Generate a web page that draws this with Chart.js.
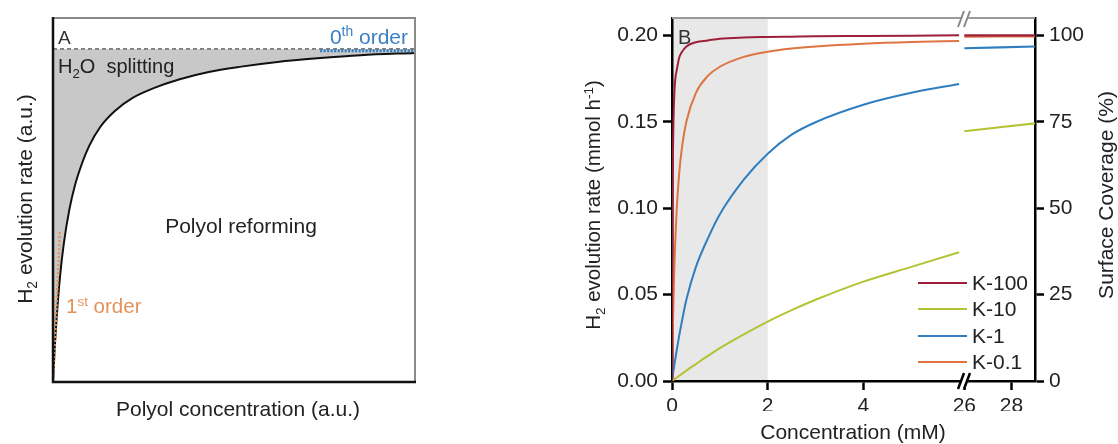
<!DOCTYPE html>
<html><head><meta charset="utf-8">
<script src="https://cdn.jsdelivr.net/npm/chart.js@4.4.1/dist/chart.umd.min.js"></script>
<style>
html,body{margin:0;padding:0;background:#fff;width:1118px;height:444px;overflow:hidden}
#ca{position:absolute;left:0;top:0}
#cb{position:absolute;left:560px;top:0}
</style></head><body>
<canvas id="ca" width="440" height="444" style="width:440px;height:444px"></canvas>
<canvas id="cb" width="558" height="444" style="width:558px;height:444px"></canvas>
<script>
// ---------- Panel A data ----------
const polyolConc = [0, 0.005, 0.01, 0.02, 0.03, 0.045, 0.06, 0.08, 0.1, 0.13, 0.17, 0.22, 0.28, 0.35, 0.43, 0.52, 0.62, 0.73, 0.85, 1.0];
const polyolRate = [0, 0.106, 0.192, 0.323, 0.417, 0.517, 0.588, 0.656, 0.709, 0.765, 0.813, 0.853, 0.883, 0.909, 0.931, 0.947, 0.961, 0.972, 0.9815, 0.988];
const firstOrderX = [0, 0.019];
const firstOrderY = [0, 0.45];
const zeroOrderX = [0.738, 1.0];
const zeroOrderY = [0.995, 0.995];
const plateauX = [0, 1];
const plateauY = [1, 1];

// ---------- Panel B data ----------
const seriesNames = ['K-100', 'K-10', 'K-1', 'K-0.1'];
const concLeft = [0, 0.005, 0.01, 0.02, 0.03, 0.05, 0.07, 0.1, 0.15, 0.2, 0.3, 0.5, 0.75, 1, 1.5, 2, 2.5, 3, 4, 5, 6];
const k100Left = [0, 0.067, 0.1, 0.133, 0.15, 0.167, 0.175, 0.18, 0.187, 0.19, 0.1935, 0.196, 0.197, 0.198, 0.1987, 0.199, 0.1992, 0.1994, 0.1996, 0.1998, 0.2];
const k10Left  = [0, 0.0001, 0.0002, 0.0004, 0.0006, 0.001, 0.0014, 0.002, 0.003, 0.004, 0.006, 0.0098, 0.0145, 0.019, 0.027, 0.0344, 0.041, 0.047, 0.0575, 0.066, 0.0745];
const k1Left   = [0, 0.001, 0.002, 0.0039, 0.0058, 0.0094, 0.013, 0.018, 0.0262, 0.0335, 0.047, 0.066, 0.0825, 0.0965, 0.1165, 0.1315, 0.1425, 0.1497, 0.1598, 0.1667, 0.1718];
const k01Left  = [0, 0.0095, 0.018, 0.0333, 0.046, 0.0667, 0.082, 0.1, 0.12, 0.1333, 0.15, 0.1667, 0.1765, 0.1818, 0.1875, 0.1905, 0.1923, 0.1935, 0.1951, 0.1961, 0.1967];
const concRight = [26, 27.5, 29];
const k100Right = [0.2, 0.2, 0.2];
const k10Right  = [0.1445, 0.1468, 0.149];
const k1Right   = [0.1925, 0.193, 0.1935];
const k01Right  = [0.1992, 0.1993, 0.1994];
const xTicksLeft = [0, 2, 4];
const xTicksRight = [26, 28];
const rateTicks = [0, 0.05, 0.1, 0.15, 0.2];
const coverageTicks = [0, 25, 50, 75, 100];
const shadeRange = [0, 2];

const FONT = "'Liberation Sans', Arial, Helvetica, sans-serif";
const TXT = '#222';
const colors = ['#9e1f3a', '#b3c334', '#2f7ec0', '#de7442'];
Chart.defaults.font.family = FONT;

function pts(xs, ys) { return xs.map((x, i) => ({x: x, y: ys[i]})); }

function drawRich(ctx, parts, x, y, size, color, align) {
  const fs = p => (p[1] ? size * 0.66 : size);
  let w = 0;
  parts.forEach(p => { ctx.font = fs(p) + 'px ' + FONT; w += ctx.measureText(p[0]).width; });
  let cx = align === 'center' ? x - w / 2 : (align === 'right' ? x - w : x);
  ctx.fillStyle = color; ctx.textBaseline = 'alphabetic'; ctx.textAlign = 'left';
  parts.forEach(p => {
    ctx.font = fs(p) + 'px ' + FONT;
    const dy = p[1] === 1 ? size * 0.24 : (p[1] === 2 ? -size * 0.36 : 0);
    ctx.fillText(p[0], cx, y + dy);
    cx += ctx.measureText(p[0]).width;
  });
}
function drawRotated(ctx, parts, x, y, size, color) {
  ctx.save(); ctx.translate(x, y); ctx.rotate(-Math.PI / 2);
  drawRich(ctx, parts, 0, 0, size, color, 'center');
  ctx.restore();
}

// ---------- Panel A chart ----------
const aPlugin = {
  id: 'adeco',
  afterDraw(chart) {
    const {ctx, chartArea: a} = chart;
    ctx.save();
    ctx.strokeStyle = '#8a8a8a'; ctx.lineWidth = 2;
    ctx.beginPath(); ctx.moveTo(a.left, a.top); ctx.lineTo(a.right, a.top); ctx.lineTo(a.right, a.bottom); ctx.stroke();
    ctx.strokeStyle = '#111'; ctx.lineWidth = 2.5;
    ctx.beginPath(); ctx.moveTo(a.left, a.top - 1); ctx.lineTo(a.left, a.bottom); ctx.lineTo(a.right + 1, a.bottom); ctx.stroke();
    drawRich(ctx, [['A']], 58, 44, 19, '#333', 'left');
    drawRich(ctx, [['H'], ['2', 1], ['O  splitting']], 58, 73, 20, TXT, 'left');
    drawRich(ctx, [['0'], ['th', 2], [' order']], 408, 44, 21, '#3a80c2', 'right');
    drawRich(ctx, [['1'], ['st', 2], [' order']], 66, 313, 20.5, '#e3925c', 'left');
    drawRich(ctx, [['Polyol reforming']], 241, 233, 21, TXT, 'center');
    drawRich(ctx, [['Polyol concentration (a.u.)']], 238, 416, 21, TXT, 'center');
    drawRotated(ctx, [['H'], ['2', 1], [' evolution rate (a.u.)']], 32, 199, 21, TXT);
    ctx.restore();
  }
};

new Chart(document.getElementById('ca'), {
  type: 'line',
  data: {
    datasets: [
      {data: pts(zeroOrderX, zeroOrderY), borderColor: '#2f7ec0', borderWidth: 3, borderDash: [2, 1.5], pointRadius: 0, fill: false},
      {data: pts(firstOrderX, firstOrderY), borderColor: '#e3925c', borderWidth: 2.5, borderDash: [2, 2], pointRadius: 0, fill: false},
      {data: pts(plateauX, plateauY), borderColor: '#555', borderWidth: 1.2, borderDash: [4, 3], pointRadius: 0, fill: false},
      {data: pts(polyolConc, polyolRate), borderColor: '#111', borderWidth: 2, pointRadius: 0,
       cubicInterpolationMode: 'monotone', backgroundColor: '#c8c8c8',
       fill: {target: {value: 1}, above: '#c8c8c8', below: '#c8c8c8'}}
    ]
  },
  options: {
    responsive: false, animation: false,
    layout: {padding: {left: 53, right: 25, top: 18, bottom: 62}},
    plugins: {legend: {display: false}, tooltip: {enabled: false}},
    scales: {
      x: {type: 'linear', display: false, min: 0, max: 1},
      y: {type: 'linear', display: false, min: 0, max: 1.093}
    }
  },
  plugins: [aPlugin]
});

// ---------- Panel B chart ----------
const tickFont = {family: FONT, size: 21};
function axisCommon() {
  return {
    grid: {display: true, drawOnChartArea: false, drawTicks: true, tickLength: 9, tickWidth: 2.5, tickColor: '#000', color: '#000'},
    border: {display: true, color: '#000', width: 2.5},
    ticks: {font: tickFont, color: TXT, autoSkip: false, maxRotation: 0, padding: 4}
  };
}
const bPlugin = {
  id: 'bdeco',
  beforeDraw(chart) {
    const {ctx, chartArea: a, scales} = chart;
    const p0 = scales.x1.getPixelForValue(shadeRange[0]);
    const p1 = scales.x1.getPixelForValue(shadeRange[1]);
    ctx.save(); ctx.fillStyle = '#e8e8e8';
    ctx.fillRect(p0, a.top, p1 - p0, a.bottom - a.top);
    ctx.restore();
  },
  afterDraw(chart) {
    const {ctx, chartArea: a, scales} = chart;
    ctx.save();
    ctx.strokeStyle = '#999'; ctx.lineWidth = 2;
    ctx.beginPath(); ctx.moveTo(a.left, a.top); ctx.lineTo(a.right, a.top); ctx.stroke();
    const bx = scales.x1.right;
    function brk(y, col, lw) {
      ctx.fillStyle = '#fff';
      ctx.beginPath(); ctx.moveTo(bx - 3, y + 8); ctx.lineTo(bx + 3, y + 8); ctx.lineTo(bx + 9, y - 8); ctx.lineTo(bx + 3, y - 8); ctx.closePath(); ctx.fill();
      ctx.strokeStyle = col; ctx.lineWidth = lw;
      ctx.beginPath();
      ctx.moveTo(bx - 4, y + 8); ctx.lineTo(bx + 2, y - 8);
      ctx.moveTo(bx + 2, y + 8); ctx.lineTo(bx + 8, y - 8);
      ctx.stroke();
    }
    brk(a.top + 1, '#888', 2);
    brk(a.bottom, '#000', 2.5);
    const lx0 = 358, lx1 = 407, ly = [283, 309, 336, 362];
    seriesNames.forEach((n, i) => {
      ctx.strokeStyle = colors[i]; ctx.lineWidth = 2;
      ctx.beginPath(); ctx.moveTo(lx0, ly[i]); ctx.lineTo(lx1, ly[i]); ctx.stroke();
      ctx.font = '21px ' + FONT; ctx.fillStyle = TXT; ctx.textAlign = 'left'; ctx.textBaseline = 'middle';
      ctx.fillText(n, 412, ly[i] + 1);
    });
    drawRich(ctx, [['B']], 118, 44, 20, '#333', 'left');
    drawRich(ctx, [['Concentration (mM)']], 293, 439, 21, TXT, 'center');
    drawRotated(ctx, [['H'], ['2', 1], [' evolution rate (mmol h'], ['-1', 2], [')']], 40, 205, 20.5, TXT);
    drawRotated(ctx, [['Surface Coverage (%)']], 553, 195, 21, TXT);
    ctx.restore();
  }
};

const bSets = [];
const leftY = [k100Left, k10Left, k1Left, k01Left];
const rightY = [k100Right, k10Right, k1Right, k01Right];
seriesNames.forEach((n, i) => {
  bSets.push({label: n, data: pts(concLeft, leftY[i]), xAxisID: 'x1', yAxisID: 'y', borderColor: colors[i], borderWidth: 2, pointRadius: 0, cubicInterpolationMode: 'monotone', fill: false});
  bSets.push({label: n + ' (26-29 mM)', data: pts(concRight, rightY[i]), xAxisID: 'x2', yAxisID: 'y', borderColor: colors[i], borderWidth: 2.2, pointRadius: 0, fill: false});
});

const x1 = Object.assign(axisCommon(), {type: 'linear', position: 'bottom', stack: 'xs', stackWeight: 290, min: 0, max: 6.06,
  afterBuildTicks: s => { s.ticks = xTicksLeft.map(v => ({value: v})); }, afterFit: s => { s.height = 30; }});
const x2 = Object.assign(axisCommon(), {type: 'linear', position: 'bottom', stack: 'xs', stackWeight: 73, min: 25.9, max: 29.0,
  afterBuildTicks: s => { s.ticks = xTicksRight.map(v => ({value: v})); }, afterFit: s => { s.height = 30; }});
const yL = Object.assign(axisCommon(), {type: 'linear', position: 'left', min: 0, max: 0.21,
  afterBuildTicks: s => { s.ticks = rateTicks.map(v => ({value: v})); }, afterFit: s => { s.width = 62; }});
yL.ticks = Object.assign(yL.ticks, {padding: 5, callback: v => Number(v).toFixed(2)});
const yR = Object.assign(axisCommon(), {type: 'linear', position: 'right', min: 0, max: 105,
  afterBuildTicks: s => { s.ticks = coverageTicks.map(v => ({value: v})); }, afterFit: s => { s.width = 60; }});
yR.ticks = Object.assign(yR.ticks, {padding: 5});

new Chart(document.getElementById('cb'), {
  type: 'line',
  data: {datasets: bSets},
  options: {
    responsive: false, animation: false,
    layout: {padding: {left: 50, right: 23, top: 18, bottom: 33}},
    plugins: {legend: {display: false}, tooltip: {enabled: false}},
    scales: {x1: x1, x2: x2, y: yL, y2: yR}
  },
  plugins: [bPlugin]
});
</script>
</body></html>
